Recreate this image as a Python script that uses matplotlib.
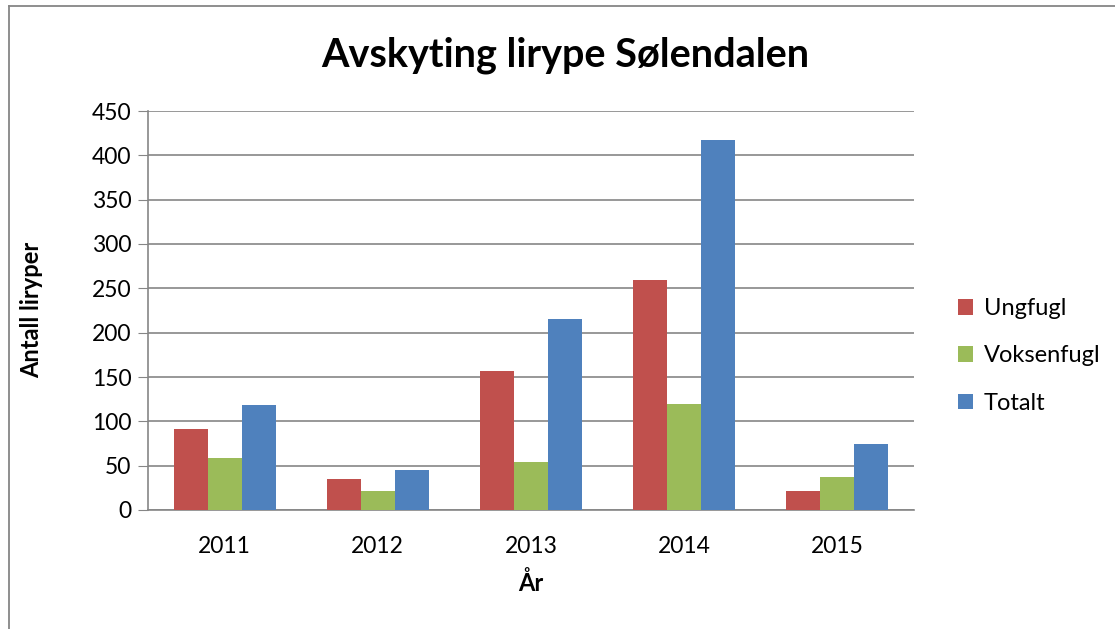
import numpy as np
import matplotlib
matplotlib.use("Agg")
import matplotlib.pyplot as plt
from matplotlib.lines import Line2D

years = ["2011", "2012", "2013", "2014", "2015"]
ungfugl = [91, 35, 157, 259, 21]
voksenfugl = [59, 21, 54, 120, 37]
totalt = [118, 45, 215, 417, 74]

series = [("Ungfugl", ungfugl, "#c0504d"),
          ("Voksenfugl", voksenfugl, "#9bbb59"),
          ("Totalt", totalt, "#4f81bd")]

plt.rcParams['font.family'] = ['Lato', 'DejaVu Sans']

fig = plt.figure(figsize=(11.15, 6.29), dpi=100)
# chart area border (only left and top edge visible in the crop)
bx, by = 8.5 / 1115, 1 - 5.5 / 629
fig.lines.append(Line2D([bx, 1], [by, by], transform=fig.transFigure,
                        color="#868686", linewidth=1.3))
fig.lines.append(Line2D([bx, bx], [0, by], transform=fig.transFigure,
                        color="#868686", linewidth=1.3))

ax = fig.add_axes([148 / 1115, 119 / 629, 766 / 1115, 399 / 629])

x = np.arange(len(years))
width = 0.222
for i, (name, vals, col) in enumerate(series):
    ax.bar(x + (i - 1) * width, vals, width, color=col, label=name, zorder=3)

ax.set_xlim(-0.5, len(years) - 0.5)
ax.set_ylim(0, 450)
ax.set_yticks(range(0, 451, 50))
ax.set_xticks(x)
ax.set_xticklabels(years)
ax.yaxis.grid(True, color="#868686", linewidth=1.2, zorder=0)
for s in ["top", "right"]:
    ax.spines[s].set_visible(False)
ax.spines["left"].set_color("#868686")
ax.spines["bottom"].set_color("#868686")
ax.spines["left"].set_linewidth(1.2)
ax.spines["bottom"].set_linewidth(1.2)
ax.tick_params(axis="y", length=7, color="#868686", labelsize=16.5, pad=5)
ax.tick_params(axis="x", length=0, labelsize=16.5, pad=19)

# axis titles placed like the original
fig.text(531 / 1115, 1 - 583 / 629, "År", ha="center", va="center",
         fontsize=17, fontweight="bold")
fig.text(32 / 1115, 1 - 310 / 629, "Antall liryper", ha="center", va="center",
         rotation=90, fontsize=17, fontweight="bold")

fig.text(565 / 1115, 1 - 55 / 629, "Avskyting lirype Sølendalen",
         ha="center", va="center", fontsize=28.5, fontweight="bold")

ax.legend(loc="center left", bbox_to_anchor=(1.042, 0.386), frameon=False,
          fontsize=17, handlelength=0.64, handleheight=0.64, labelspacing=1.12,
          handletextpad=0.45, borderpad=0)

fig.savefig("out.png", dpi=100)
